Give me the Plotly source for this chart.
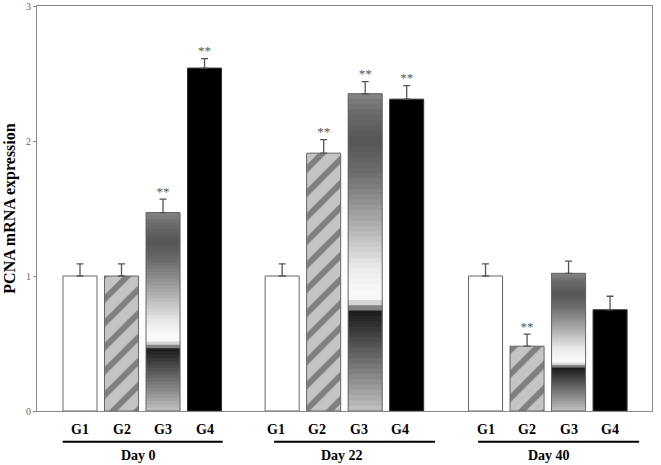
import plotly.graph_objects as go
import numpy as np

# ---------------- data ----------------
days = ["Day 0", "Day 22", "Day 40"]
groups = ["G1", "G2", "G3", "G4"]

g1 = [1.00, 1.00, 1.00]
g2 = [1.00, 1.91, 0.48]
g3 = [1.47, 2.35, 1.02]
g4 = [2.54, 2.31, 0.75]

g1_err = [0.09, 0.09, 0.09]
g2_err = [0.09, 0.10, 0.09]
g3_err = [0.10, 0.09, 0.09]
g4_err = [0.07, 0.10, 0.10]

g1_sig = ["", "", ""]
g2_sig = ["", "**", "**"]
g3_sig = ["**", "**", ""]
g4_sig = ["**", "**", ""]

y_ticks = [0, 1, 2, 3]

# ---------------- layout helpers ----------------
day_base = [0.0, 4.87, 9.77]
bar_w = 0.82
FONT = "Liberation Serif"

def xs(gi):
    return [b + gi for b in day_base]

fig = go.Figure()

# G1: white
fig.add_trace(go.Bar(x=xs(0), y=g1, width=bar_w,
                     marker=dict(color="white", line=dict(color="#666666", width=1))))

# G2: diagonal striped
fig.add_trace(go.Bar(x=xs(1), y=g2, width=bar_w,
                     marker=dict(color="#b8b8b8",
                                 line=dict(color="#666666", width=1),
                                 pattern=dict(shape="/", fgcolor="#3a3a3a", bgcolor="#c4c4c4",
                                              size=17, solidity=0.35))))

# G3: vertical gradient, drawn as overlapping overlaid segments of each bar
stops_t = [0.0, 0.28, 0.31, 0.335, 0.36, 0.45, 0.60, 0.75, 0.85, 0.95, 1.0]
stops_v = [195, 45, 30, 200, 252, 235, 170, 110, 85, 110, 135]
N = 60
seg_x, seg_base, seg_h, seg_c = [], [], [], []
for k in range(N):
    t0, t1 = k / N, (k + 1) / N
    v = int(np.interp((t0 + t1) / 2, stops_t, stops_v))
    t_end = min(t0 + 3.0 / N, 1.0)
    for d in range(3):
        seg_x.append(xs(2)[d])
        seg_base.append(g3[d] * t0)
        seg_h.append(g3[d] * (t_end - t0))
        seg_c.append(f"rgb({v},{v},{v})")
fig.add_trace(go.Bar(x=seg_x, y=seg_h, base=seg_base, width=bar_w,
                     marker=dict(color=seg_c, line=dict(width=0))))
fig.add_trace(go.Bar(x=xs(2), y=g3, width=bar_w,
                     marker=dict(color="rgba(0,0,0,0)", line=dict(color="#666666", width=1))))

# G4: black
fig.add_trace(go.Bar(x=xs(3), y=g4, width=bar_w,
                     marker=dict(color="black", line=dict(color="#333333", width=1))))

# error bars and significance marks
all_vals = [g1, g2, g3, g4]
all_errs = [g1_err, g2_err, g3_err, g4_err]
all_sig = [g1_sig, g2_sig, g3_sig, g4_sig]
for gi in range(4):
    fig.add_trace(go.Scatter(x=xs(gi), y=all_vals[gi], mode="markers",
                             marker=dict(size=1, color="rgba(0,0,0,0)"),
                             error_y=dict(type="data", symmetric=False, array=all_errs[gi],
                                          arrayminus=[0, 0, 0], color="#555555",
                                          thickness=1.3, width=3.5)))
    fig.add_trace(go.Scatter(x=xs(gi), y=[v + e for v, e in zip(all_vals[gi], all_errs[gi])],
                             mode="text", text=all_sig[gi], textposition="top center",
                             textfont=dict(family=FONT, size=13, color="#555555")))

label_shift = [0.0, -0.15, 0.0]
tick_x = [b + gi + s for b, s in zip(day_base, label_shift) for gi in range(4)]
tick_t = [g for _ in days for g in groups]

shapes = []
annotations = []
line_spans = [(-0.417, 3.438), (4.675, 8.554), (9.59, 13.47)]
day_label_x = [1.42, 6.31, 11.29]
for (a, b), d, lx in zip(line_spans, days, day_label_x):
    shapes.append(dict(type="line", xref="x", yref="paper", x0=a, x1=b,
                       y0=-0.076, y1=-0.076, line=dict(color="black", width=2)))
    annotations.append(dict(x=lx, y=-0.110, xref="x", yref="paper",
                            text="<b>" + d + "</b>", showarrow=False,
                            font=dict(family=FONT, size=14, color="black"),
                            xanchor="center", yanchor="middle"))
for x, t in zip(tick_x, tick_t):
    annotations.append(dict(x=x, y=-0.045, xref="x", yref="paper",
                            text="<b>" + t + "</b>", showarrow=False,
                            font=dict(family=FONT, size=14, color="black"),
                            xanchor="center", yanchor="middle"))

fig.update_layout(
    width=661, height=465,
    margin=dict(l=37, r=9, t=6, b=54, autoexpand=False),
    paper_bgcolor="white", plot_bgcolor="white",
    barmode="overlay", showlegend=False,
    shapes=shapes, annotations=annotations,
    xaxis=dict(range=[-1.036, 13.78], showticklabels=False, ticks="",
               showgrid=False, zeroline=False, showline=True, mirror=True,
               linecolor="#888888", linewidth=1, automargin=False),
    yaxis=dict(range=[0, 3], tickvals=y_ticks, ticktext=[str(v) for v in y_ticks],
               ticks="outside", ticklen=3, tickcolor="#888888",
               tickfont=dict(family=FONT, size=10, color="#666666"),
               showgrid=False, zeroline=False, showline=True, mirror=True,
               linecolor="#888888", linewidth=1, automargin=False,
               title=dict(text="<b>PCNA mRNA expression</b>", standoff=6,
                          font=dict(family=FONT, size=16, color="black"))),
)

fig.write_html("out.html", config={"displayModeBar": False},
               post_script="document.body.style.margin='0';document.body.style.overflow='hidden';")
